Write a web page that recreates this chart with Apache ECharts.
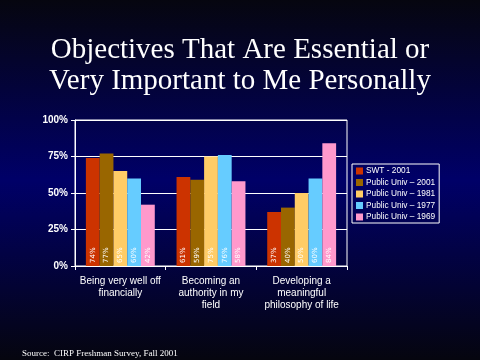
<!DOCTYPE html>
<html><head><meta charset="utf-8">
<script src="https://cdn.jsdelivr.net/npm/echarts@6/dist/echarts.min.js"></script>
<style>html,body{margin:0;padding:0;}#c{width:480px;height:360px;}</style>
</head><body><div id="c"></div>
<script>
const categories = ["Being very well off\nfinancially", "Becoming an\nauthority in my\nfield", "Developing a\nmeaningful\nphilosophy of life"];
const seriesNames = ["SWT - 2001", "Public Univ \u2013 2001", "Public Univ \u2013 1981", "Public Univ \u2013 1977", "Public Univ \u2013 1969"];
const swt2001 = [74, 61, 37];
const pub2001 = [77, 59, 40];
const pub1981 = [65, 75, 50];
const pub1977 = [60, 76, 60];
const pub1969 = [42, 58, 84];
const yTicks = [0, 25, 50, 75, 100];
const colors = ["#CC3300", "#996600", "#FFCC66", "#66CCFF", "#FF99CC"];
const allValues = [swt2001, pub2001, pub1981, pub1977, pub1969];

const chart = echarts.init(document.getElementById('c'));
chart.setOption({
  animation: false,
  backgroundColor: {type: 'linear', x: 0, y: 0, x2: 0, y2: 1, colorStops: [
    {offset: 0, color: '#06060f'}, {offset: 0.5, color: '#000068'}, {offset: 1, color: '#05050f'}]},
  title: [
    {text: 'Objectives That Are Essential or\nVery Important to Me Personally', left: 'center', top: 30,
     textStyle: {color: '#fff', fontFamily: 'Liberation Serif', fontWeight: 'normal', fontSize: 29, lineHeight: 31}},
    {text: 'Source:  CIRP Freshman Survey, Fall 2001', left: 17, top: 344,
     textStyle: {color: '#fff', fontFamily: 'Liberation Serif', fontWeight: 'normal', fontSize: 9}}
  ],
  legend: {
    orient: 'vertical', left: 352, top: 164,
    borderColor: '#fff', borderWidth: 1, padding: [2, 4, 1, 4],
    itemWidth: 7, itemHeight: 7, itemGap: 1.5,
    icon: 'rect',
    textStyle: {color: '#fff', fontSize: 8.3, fontFamily: 'Liberation Sans', lineHeight: 10, padding: [0, 0, 0, -2]},
    data: seriesNames
  },
  grid: {left: 75, right: 133, top: 120, bottom: 94, show: true, borderColor: '#fff', borderWidth: 1},
  xAxis: {
    type: 'category', data: categories,
    axisLine: {lineStyle: {color: '#fff', width: 1}},
    axisTick: {show: true, length: 4, lineStyle: {color: '#fff'}},
    axisLabel: {color: '#fff', fontSize: 10, fontFamily: 'Liberation Sans', lineHeight: 12, margin: 9, interval: 0}
  },
  yAxis: {
    type: 'value', min: 0, max: 100, interval: 25,
    axisLine: {show: true, lineStyle: {color: '#fff'}},
    axisTick: {show: true, length: 4, lineStyle: {color: '#fff'}},
    splitLine: {show: true, lineStyle: {color: '#fff', width: 1}},
    axisLabel: {color: '#fff', fontSize: 10, fontWeight: 'bold', fontFamily: 'Liberation Sans', margin: 7,
      formatter: v => yTicks.includes(v) ? v + '%' : ''}
  },
  series: seriesNames.map((n, i) => ({
    name: n, type: 'bar', data: allValues[i], barGap: '0%', barCategoryGap: '24%',
    itemStyle: {color: colors[i]},
    label: {show: true, position: 'insideBottom', rotate: 90, align: 'left', verticalAlign: 'middle',
      distance: 3, color: '#fff', fontSize: 7, fontFamily: 'DejaVu Sans', formatter: '{c}%'}
  }))
});
</script></body></html>
